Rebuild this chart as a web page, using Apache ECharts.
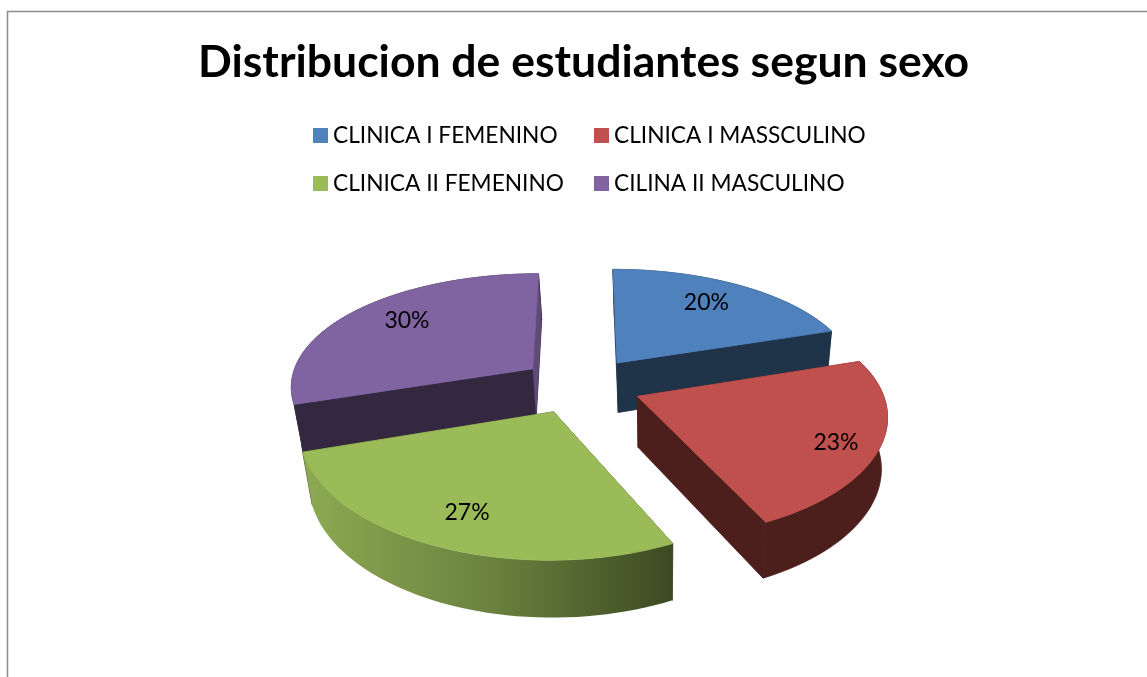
<!DOCTYPE html>
<html>
<head>
<meta charset="utf-8">
<style>html,body{margin:0;padding:0;background:#fff}#chart{width:1147px;height:677px}</style>
<script src="https://cdn.jsdelivr.net/npm/echarts@6/dist/echarts.min.js"></script>
</head>
<body>
<div id="chart"></div>
<script>
const titleText = 'Distribucion de estudiantes segun sexo';
const categories = ['CLINICA I FEMENINO', 'CLINICA I MASSCULINO', 'CLINICA II FEMENINO', 'CILINA II MASCULINO'];
const values = [20, 23, 27, 30];
const topColors = ['#4F81BD', '#C0504D', '#9BBB59', '#8064A2'];
const wallColors = ['#1F3349', '#4C1F1D', null, '#33283F'];
const drawOrder = [0, 3, 1, 2];
const labelRadius = [0.73, 0.83, 0.78, 0.71];
const labelShiftY = [-2, 5, 0, -5];
const sliceShiftX = [1, 0, -4, -2];

const FONT = 'Lato, "Open Sans", sans-serif';
const view = { cx: 582, cy: 385, rx: 243, ry: 115, perspX: 0.14, perspY: 0.16, explode: 0.245, depth: 48, shrink: 0.027, shrinkAt: 660 };
const total = values.reduce((a, b) => a + b, 0);

function project(X, Y) {
  const sx = 1 / (1 - view.perspX * Y);
  const sy = 1 / (1 - view.perspY * Y);
  return { x: view.cx + view.rx * X * sx, y: view.cy + view.ry * Y * sy, s: sy };
}
function topPt(X, Y) { const p = project(X, Y); return [p.x, p.y]; }
function botPt(X, Y) {
  const p = project(X, Y);
  return [p.x - (p.x - view.shrinkAt) * view.shrink, p.y + view.depth * (0.45 + 0.6 * p.s)];
}
function renderSlice(params, api) {
  const i = params.seriesIndex;
  const idx = drawOrder[i];
  const v = api.value(0);
  let before = 0;
  for (let k = 0; k < idx; k++) before += values[k];
  const a0 = before / total * Math.PI * 2;
  const a1 = (before + v) / total * Math.PI * 2;
  const mid = (a0 + a1) / 2;
  const ox = Math.sin(mid) * view.explode;
  const oy = -Math.cos(mid) * view.explode;
  const dx = sliceShiftX[idx];
  const nudge = p => [p[0] + dx, p[1]];
  const arc = [];
  const n = 48;
  for (let k = 0; k <= n; k++) {
    const a = a0 + (a1 - a0) * k / n;
    arc.push([ox + Math.sin(a), oy - Math.cos(a)]);
  }
  const topArc = arc.map(p => nudge(topPt(p[0], p[1])));
  const botArc = arc.map(p => nudge(botPt(p[0], p[1])));
  const apexT = nudge(topPt(ox, oy)), apexB = nudge(botPt(ox, oy));
  const wall = wallColors[idx];
  const arcFill = wall || {
    type: 'linear', x: 0, y: 0, x2: 1, y2: 0,
    colorStops: [{ offset: 0, color: '#8DAA52' }, { offset: 0.5, color: '#6B833F' }, { offset: 1, color: '#3C4A22' }]
  };
  const sideFill = wall || '#3C4A22';
  const poly = (pts, fill, seam) => ({
    type: 'polygon', shape: { points: pts },
    style: seam ? { fill, stroke: seam, lineWidth: 0.8 } : { fill }
  });
  const children = [
    poly([apexT, topArc[0], botArc[0], apexB], sideFill, sideFill),
    poly([apexT, topArc[n], botArc[n], apexB], sideFill, sideFill),
    poly(topArc.concat(botArc.slice().reverse()), arcFill, wall),
    poly([apexT].concat(topArc), topColors[idx], topColors[idx])
  ];
  if (idx === 3) children.splice(3, 0, poly([topArc[n], botArc[n], apexB, apexT], '#5F4A7A'));
  const lr = labelRadius[idx];
  const lp = topPt(ox + Math.sin(mid) * lr, oy - Math.cos(mid) * lr);
  children.push({
    type: 'text', z2: 10,
    style: { x: lp[0] - 1, y: lp[1] + labelShiftY[idx], text: Math.round(v / total * 100) + '%', fill: '#000', font: '23px ' + FONT, align: 'center', verticalAlign: 'middle' }
  });
  return { type: 'group', children };
}
const legendBase = {
  orient: 'vertical', icon: 'rect', itemWidth: 15, itemHeight: 15, itemGap: 25,
  textStyle: { fontFamily: FONT, fontSize: 22.7, color: '#000', padding: 0 },
  selectedMode: false, padding: 0
};
const chart = echarts.init(document.getElementById('chart'), null, { renderer: 'canvas' });
chart.setOption({
  animation: false,
  backgroundColor: '#fff',
  title: { text: titleText, left: 198, top: 40, padding: 0,
    textStyle: { fontFamily: FONT, fontSize: 44.5, fontWeight: 'bold', color: '#000' } },
  legend: [
    Object.assign({}, legendBase, { left: 313, top: 124, data: [categories[0], categories[2]] }),
    Object.assign({}, legendBase, { left: 594, top: 124, data: [categories[1], categories[3]] })
  ],
  graphic: [{ type: 'polyline', shape: { points: [[7.5, 680], [7.5, 11.5], [1150, 11.5]] }, style: { stroke: '#8C8C8C', lineWidth: 1.5, fill: null }, silent: true }],
  series: drawOrder.map(idx => ({
    type: 'custom', name: categories[idx], coordinateSystem: 'none',
    itemStyle: { color: topColors[idx] },
    renderItem: renderSlice, data: [[values[idx]]]
  }))
});
</script>
</body>
</html>
